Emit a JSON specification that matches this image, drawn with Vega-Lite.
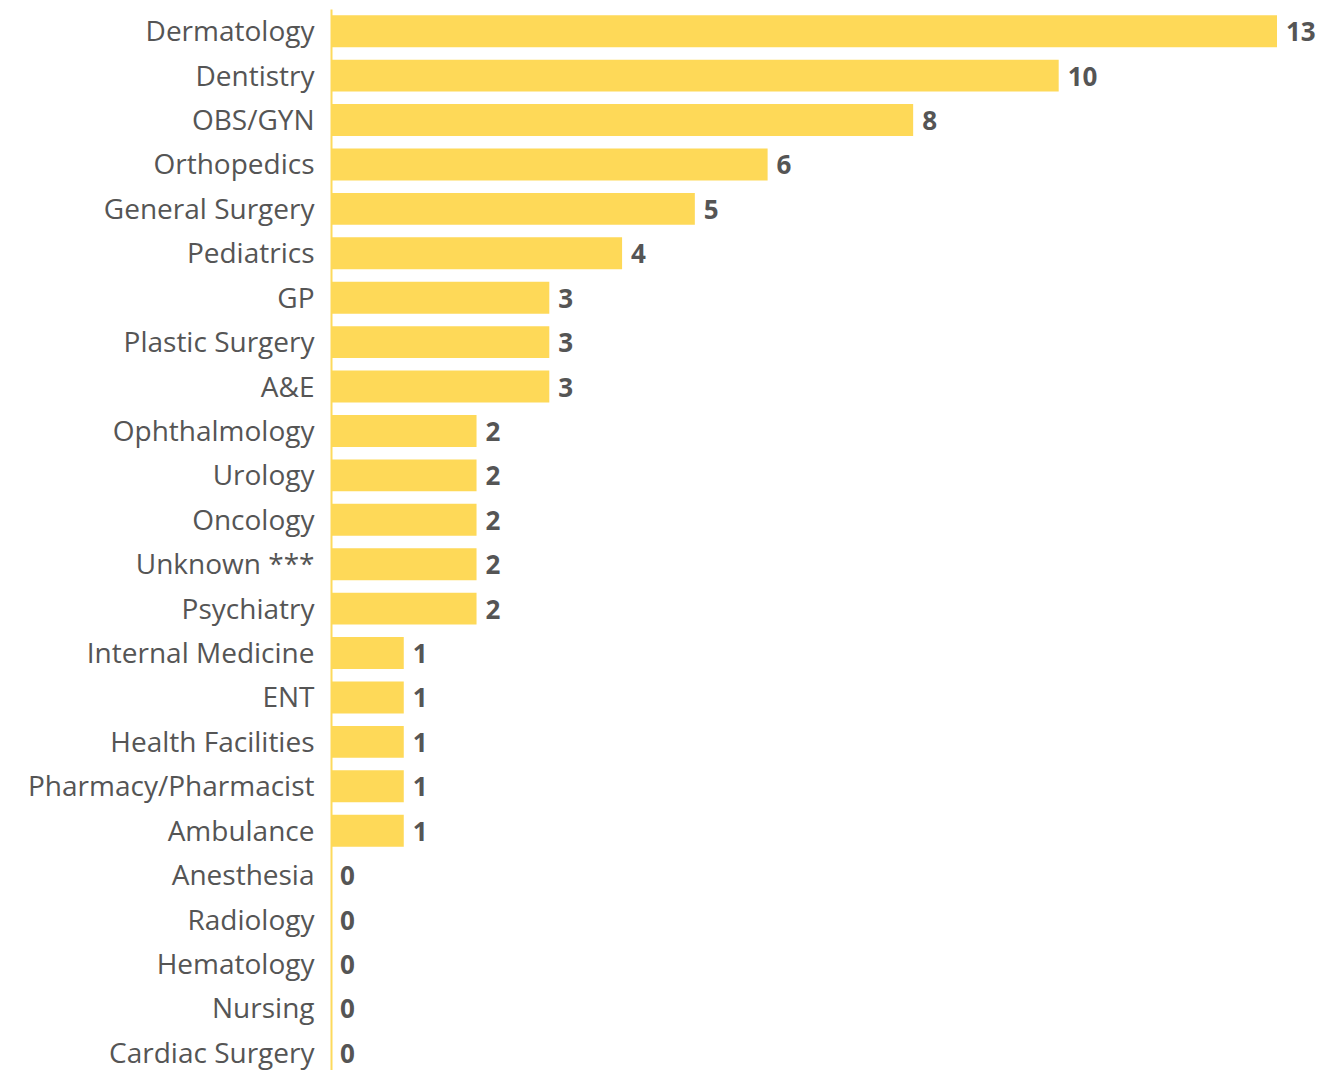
{
  "$schema": "https://vega.github.io/schema/vega-lite/v6.json",
  "width": 946,
  "height": 1066,
  "autosize": "none",
  "padding": {"left": 331, "top": 9, "right": 42, "bottom": 0},
  "background": "white",
  "config": {"view": {"stroke": null}, "font": "Open Sans"},
  "data": {"values": [
    {"specialty": "Dermatology", "count": 13},
    {"specialty": "Dentistry", "count": 10},
    {"specialty": "OBS/GYN", "count": 8},
    {"specialty": "Orthopedics", "count": 6},
    {"specialty": "General Surgery", "count": 5},
    {"specialty": "Pediatrics", "count": 4},
    {"specialty": "GP", "count": 3},
    {"specialty": "Plastic Surgery", "count": 3},
    {"specialty": "A&E", "count": 3},
    {"specialty": "Ophthalmology", "count": 2},
    {"specialty": "Urology", "count": 2},
    {"specialty": "Oncology", "count": 2},
    {"specialty": "Unknown ***", "count": 2},
    {"specialty": "Psychiatry", "count": 2},
    {"specialty": "Internal Medicine", "count": 1},
    {"specialty": "ENT", "count": 1},
    {"specialty": "Health Facilities", "count": 1},
    {"specialty": "Pharmacy/Pharmacist", "count": 1},
    {"specialty": "Ambulance", "count": 1},
    {"specialty": "Anesthesia", "count": 0},
    {"specialty": "Radiology", "count": 0},
    {"specialty": "Hematology", "count": 0},
    {"specialty": "Nursing", "count": 0},
    {"specialty": "Cardiac Surgery", "count": 0}
  ]},
  "encoding": {
    "y": {
      "field": "specialty", "type": "nominal", "sort": null,
      "scale": {"paddingInner": 0.28, "paddingOuter": 0.14},
      "axis": {
        "title": null, "ticks": false, "labelPadding": 17, "labelOffset": 2,
        "labelFont": "Open Sans", "labelFontSize": 28, "labelColor": "#555555",
        "domainColor": "#FDDA5C", "domainWidth": 2, "labelLimit": 400
      }
    },
    "x": {
      "field": "count", "type": "quantitative",
      "scale": {"domain": [0, 13], "nice": false, "zero": true},
      "axis": null
    }
  },
  "layer": [
    {"mark": {"type": "bar", "color": "#FED958", "x2": 1, "cornerRadius": 0}},
    {
      "mark": {"type": "text", "align": "left", "baseline": "middle", "dx": 9, "dy": 2,
               "font": "Open Sans", "fontWeight": "bold", "fontSize": 26, "color": "#555555"},
      "encoding": {"text": {"field": "count", "type": "quantitative"}}
    }
  ]
}
